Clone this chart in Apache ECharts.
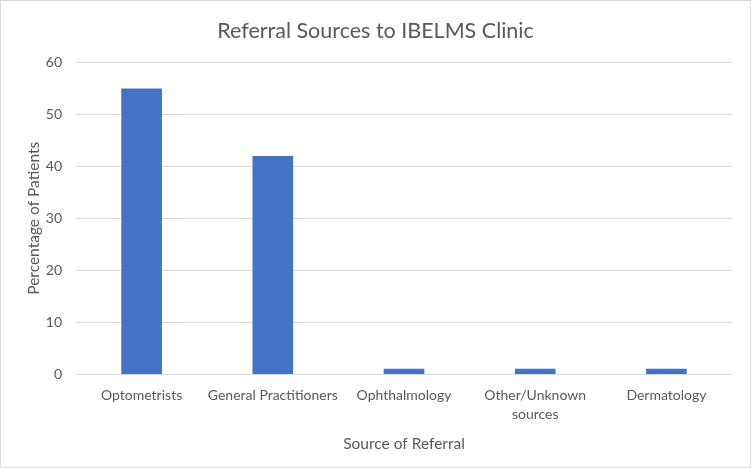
<!DOCTYPE html>
<html><head><meta charset="utf-8">
<script src="https://cdn.jsdelivr.net/npm/echarts@6/dist/echarts.min.js"></script>
<style>html,body{margin:0;padding:0;background:#fff}#c{width:751px;height:468px;box-sizing:border-box;border:1px solid #d9d9d9}</style>
</head><body><div id="c"></div>
<script>
const categories = ["Optometrists", "General Practitioners", "Ophthalmology", "Other/Unknown\nsources", "Dermatology"];
const values = [55, 42, 1, 1, 1];
const yTicks = {min: 0, max: 60, interval: 10};
const font = "Lato";
const txt = "#595959";
const chart = echarts.init(document.getElementById('c'), null, {renderer: 'canvas'});
chart.setOption({
  animation: false,
  title: {text: "Referral Sources to IBELMS Clinic", left: 'center', top: 14,
    textStyle: {fontFamily: font, fontSize: 21.5, fontWeight: 'normal', color: txt}},
  grid: {left: 75, right: 18, top: 61.5, bottom: 93, containLabel: false},
  xAxis: {type: 'category', data: categories,
    name: "Source of Referral", nameLocation: 'middle', nameGap: 62, nameMoveOverlap: false,
    nameTextStyle: {fontFamily: font, fontSize: 15.5, color: txt},
    axisLine: {lineStyle: {color: '#d9d9d9'}}, axisTick: {show: false},
    axisLabel: {fontFamily: font, fontSize: 14, color: txt, margin: 12, lineHeight: 19, interval: 0}},
  yAxis: {type: 'value', min: yTicks.min, max: yTicks.max, interval: yTicks.interval,
    name: "Percentage of Patients", nameLocation: 'middle', nameGap: 42, nameMoveOverlap: false,
    nameTextStyle: {fontFamily: font, fontSize: 15.5, color: txt, verticalAlign: 'middle'},
    axisLine: {show: false}, axisTick: {show: false},
    axisLabel: {fontFamily: font, fontSize: 14, color: txt, margin: 14},
    splitLine: {lineStyle: {color: '#d9d9d9'}}},
  series: [{type: 'bar', data: values, barWidth: '31%', itemStyle: {color: '#4472c4'}}]
});
</script></body></html>
